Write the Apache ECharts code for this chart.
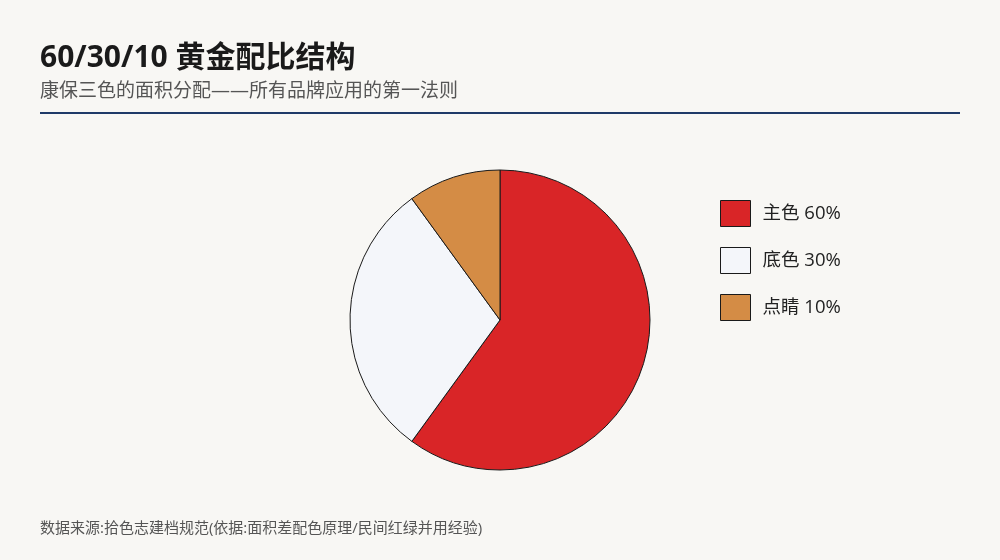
<!DOCTYPE html>
<html><head><meta charset="utf-8">
<script src="https://cdn.jsdelivr.net/npm/echarts@6/dist/echarts.min.js"></script>
<style>html,body{margin:0;padding:0;background:#f8f7f4;}#c{width:1000px;height:560px;}</style>
</head><body><div id="c"></div>
<script>
const categories = ['主色 60%', '底色 30%', '点睛 10%'];
const values = [60, 30, 10];
const colors = ['#d92527', '#f4f6fa', '#d48c45'];
const titleText = '60/30/10 黄金配比结构';
const subtitleText = '康保三色的面积分配——所有品牌应用的第一法则';
const footerText = '数据来源:拾色志建档规范(依据:面积差配色原理/民间红绿并用经验)';

const font = '"Open Sans", "Noto Sans CJK SC", sans-serif';
const chart = echarts.init(document.getElementById('c'), null, {renderer: 'canvas'});
chart.setOption({
  backgroundColor: '#f8f7f4',
  animation: false,
  textStyle: {fontFamily: font},
  graphic: [
    {type: 'text', x: 40, y: 58, style: {text: titleText, font: 'bold 30px ' + font, fill: '#1a1a1a', textVerticalAlign: 'middle'}},
    {type: 'text', x: 40, y: 92, style: {text: subtitleText, font: '19px ' + font, fill: '#555555', textVerticalAlign: 'middle'}},
    {type: 'rect', shape: {x: 40, y: 112, width: 920, height: 2}, style: {fill: '#1f3a68'}},
    {type: 'text', x: 40, y: 529, style: {text: footerText, font: '15px ' + font, fill: '#555555', textVerticalAlign: 'middle'}}
  ],
  legend: {
    orient: 'vertical', left: 715, top: 195,
    itemWidth: 30, itemHeight: 26, itemGap: 20,
    icon: 'rect',
    textStyle: {fontSize: 18.5, color: '#222222', fontFamily: font, padding: [0, 0, 0, 7]},
    itemStyle: {borderColor: '#1a1a1a', borderWidth: 1},
    data: categories
  },
  series: [{
    type: 'pie', center: [500, 320], radius: 150,
    startAngle: 90, clockwise: true,
    label: {show: false}, labelLine: {show: false},
    itemStyle: {borderColor: '#1a1a1a', borderWidth: 1},
    emphasis: {disabled: true},
    data: categories.map((c, i) => ({name: c, value: values[i], itemStyle: {color: colors[i]}}))
  }]
});
</script></body></html>
